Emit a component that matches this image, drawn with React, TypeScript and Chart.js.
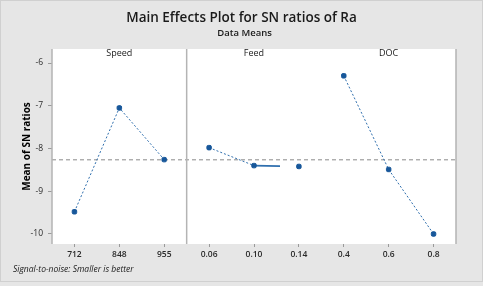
import React, { useEffect, useRef } from "react";
import { Chart, registerables } from "chart.js";

Chart.register(...registerables);

// Factor levels and their mean S/N ratios
const SPEED_LEVELS = ["712", "848", "955"];
const FEED_LEVELS = ["0.06", "0.10", "0.14"];
const DOC_LEVELS = ["0.4", "0.6", "0.8"];
const SPEED_SN = [-9.48, -7.05, -8.26];
const FEED_SN = [-7.98, -8.4, -8.42];
const DOC_SN = [-6.3, -8.49, -10.0];
const PANEL_NAMES = ["Speed", "Feed", "DOC"];
const Y_TICKS = [-10, -9, -8, -7, -6];

const FONT = "'Open Sans', 'Noto Sans', sans-serif";
const LINE_COLOR = "#2f6fae";
const POINT_COLOR = "#17579a";

const labels = [...SPEED_LEVELS, ...FEED_LEVELS, ...DOC_LEVELS];
const pad = (vals: number[], start: number) =>
  labels.map((_, i) => (i >= start && i < start + vals.length ? vals[i - start] : null));
const allValues = [...SPEED_SN, ...FEED_SN, ...DOC_SN];
const grandMean = allValues.reduce((a, b) => a + b, 0) / allValues.length;

const framePlugin = {
  id: "mainEffectsFrame",
  beforeDraw(chart: any) {
    const { ctx, chartArea: a, width, height } = chart;
    ctx.save();
    ctx.fillStyle = "#e6e6e6";
    ctx.fillRect(0, 0, width, height);
    ctx.strokeStyle = "#d0d0d0";
    ctx.lineWidth = 1;
    ctx.strokeRect(0.5, 0.5, width - 1, height - 5);
    ctx.fillStyle = "#ffffff";
    ctx.fillRect(a.left, a.top, a.right - a.left, a.bottom - a.top);
    // grand mean reference line
    const y = chart.scales.y.getPixelForValue(grandMean);
    ctx.strokeStyle = "#8a8a8a";
    ctx.setLineDash([4, 3]);
    ctx.beginPath();
    ctx.moveTo(a.left, y);
    ctx.lineTo(a.right, y);
    ctx.stroke();
    ctx.restore();
  },
  afterDraw(chart: any) {
    const { ctx, chartArea: a, width } = chart;
    const x = chart.scales.x;
    ctx.save();
    // panel outline and divider
    ctx.strokeStyle = "#b4b4b4";
    ctx.lineWidth = 1.5;
    ctx.beginPath();
    ctx.moveTo(a.left, a.top);
    ctx.lineTo(a.left, a.bottom);
    ctx.moveTo(a.right, a.top);
    ctx.lineTo(a.right, a.bottom);
    const div = (x.getPixelForValue(2) + x.getPixelForValue(3)) / 2;
    ctx.moveTo(div, a.top);
    ctx.lineTo(div, a.bottom);
    ctx.stroke();

    ctx.fillStyle = "#1a1a1a";
    ctx.textAlign = "center";
    ctx.textBaseline = "middle";
    ctx.font = `9px ${FONT}`;
    PANEL_NAMES.forEach((name, p) => {
      const cx = x.getPixelForValue(p * 3 + 1);
      ctx.fillText(name, cx, a.top + 4);
    });

    ctx.font = `600 13.5px ${FONT}`;
    ctx.fillText("Main Effects Plot for SN ratios of Ra", width / 2, 18);
    ctx.font = `600 9.5px ${FONT}`;
    ctx.fillText("Data Means", width / 2 + 3, 33);

    ctx.save();
    ctx.translate(27, (a.top + a.bottom) / 2);
    ctx.rotate(-Math.PI / 2);
    ctx.fillStyle = "#000000";
    ctx.font = `700 10px ${FONT}`;
    ctx.fillText("Mean of SN ratios", 0, 0);
    ctx.restore();

    ctx.textAlign = "left";
    ctx.font = `italic 8.5px ${FONT}`;
    ctx.fillText("Signal-to-noise: Smaller is better", 13, 270);
    ctx.restore();
  },
};

const seriesStyle = {
  borderColor: LINE_COLOR,
  borderWidth: 1,
  borderDash: [2, 2],
  pointBackgroundColor: POINT_COLOR,
  pointBorderColor: POINT_COLOR,
  pointStyle: "rectRounded",
  pointRadius: 2.6,
  spanGaps: false,
};

export default function App() {
  const ref = useRef<HTMLCanvasElement>(null);
  useEffect(() => {
    const chart = new Chart(ref.current!, {
      type: "line",
      data: {
        labels,
        datasets: [
          { label: "Speed", data: pad(SPEED_SN, 0), ...seriesStyle },
          {
            label: "Feed",
            data: pad(FEED_SN, 3),
            ...seriesStyle,
            segment: {
              borderDash: (c: any) => (c.p0DataIndex === 4 ? [26, 200] : [2, 2]),
              borderWidth: (c: any) => (c.p0DataIndex === 4 ? 1.6 : 1),
            },
          },
          { label: "DOC", data: pad(DOC_SN, 6), ...seriesStyle },
        ],
      } as any,
      plugins: [framePlugin],
      options: {
        animation: false,
        responsive: false,
        layout: { padding: { left: 0, right: 27, top: 49, bottom: 22 } },
        plugins: { legend: { display: false }, tooltip: { enabled: false }, title: { display: false } },
        scales: {
          x: {
            type: "category",
            offset: true,
            grid: { offset: false, drawOnChartArea: false, drawTicks: true, tickLength: 3, color: "#9a9a9a" },
            border: { display: false },
            ticks: { color: "#2a2a2a", font: { family: FONT, size: 8.5, weight: "600" }, padding: 2, maxRotation: 0 },
            afterFit: (s: any) => {
              s.height = 20;
            },
          },
          y: {
            min: -10.234,
            max: -5.672,
            grid: { drawOnChartArea: false, drawTicks: true, tickLength: 4, color: "#9a9a9a" },
            border: { display: false },
            afterBuildTicks: (s: any) => {
              s.ticks = Y_TICKS.map((v) => ({ value: v }));
            },
            ticks: { color: "#2a2a2a", font: { family: FONT, size: 8.5 }, padding: 5 },
            afterFit: (s: any) => {
              s.width = 52;
            },
          },
        },
      } as any,
    });
    return () => chart.destroy();
  }, []);
  return (
    <div style={{ position: "fixed", left: 0, top: 0, width: 483, height: 286 }}>
      <canvas ref={ref} width={483} height={286} style={{ display: "block" }} />
    </div>
  );
}
